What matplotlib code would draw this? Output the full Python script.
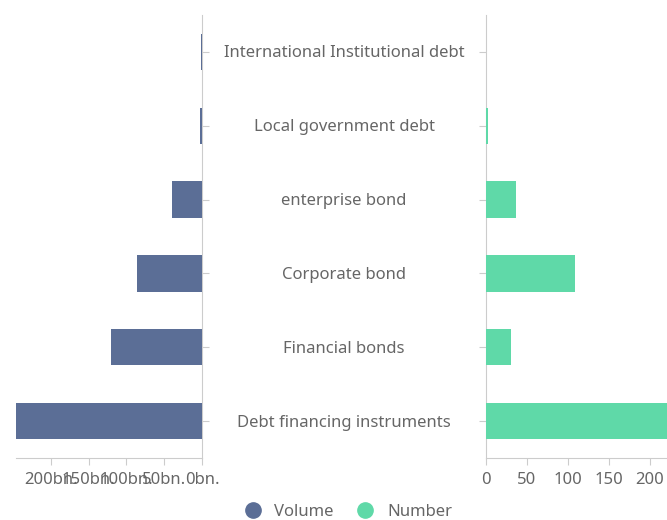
import matplotlib.pyplot as plt
from matplotlib.lines import Line2D

plt.rcParams['font.family'] = ['Noto Sans', 'DejaVu Sans']

categories = ["International Institutional debt", "Local government debt",
              "enterprise bond", "Corporate bond", "Financial bonds",
              "Debt financing instruments"]
volume_bn = [1.0, 2.5, 40, 86, 120, 246]
number = [0, 2, 36, 108, 30, 235]
volume_ticks = [0, 50, 100, 150, 200]
number_ticks = [0, 50, 100, 150, 200]

c_vol = '#5b6e96'
c_num = '#5fd9a8'
axis_c = '#cccccc'
text_c = '#666666'

fig = plt.figure(figsize=(6.67, 5.2), dpi=100)
axl = fig.add_axes([16 / 667, 62 / 520, 186 / 667, 443 / 520])
axr = fig.add_axes([486 / 667, 62 / 520, 181 / 667, 443 / 520])

ypos = list(range(len(categories)))

axl.barh(ypos, volume_bn, height=0.49, color=c_vol, zorder=3)
axl.set_xlim(246, 0)
axr.barh(ypos, number, height=0.49, color=c_num, zorder=3)
axr.set_xlim(0, 181 / 0.82)

for ax in (axl, axr):
    ax.set_ylim(len(categories) - 0.5, -0.5)
    ax.set_yticks(ypos)
    ax.set_yticklabels([])
    for s in ax.spines.values():
        s.set_visible(False)
    ax.spines['bottom'].set_visible(True)
    ax.spines['bottom'].set_color(axis_c)
    ax.tick_params(axis='both', colors=axis_c, length=5, labelcolor=text_c,
                   labelsize=12)
    ax.tick_params(axis='x', pad=5)

axl.spines['right'].set_visible(True)
axl.spines['right'].set_color(axis_c)
axl.yaxis.tick_right()
axl.set_xticks(volume_ticks)
axl.set_xticklabels(["%dbn." % v for v in volume_ticks])

axr.spines['left'].set_visible(True)
axr.spines['left'].set_color(axis_c)
axr.set_xticks(number_ticks)
axr.set_xticklabels([str(v) for v in number_ticks])

# category names in the gap between the two axes
for i, name in enumerate(categories):
    y = (458 - 15) / len(categories) * (i + 0.5) + 15
    fig.text(344 / 667, 1 - (y + 1.5) / 520, name, ha='center', va='center',
             fontsize=12, color=text_c)

handles = [Line2D([], [], marker='o', ls='', color=c_vol, markersize=11),
           Line2D([], [], marker='o', ls='', color=c_num, markersize=11)]
fig.legend(handles, ["Volume", "Number"], loc='center', ncol=2,
           bbox_to_anchor=(344 / 667, 8 / 520), frameon=False, fontsize=12,
           labelcolor=text_c, handletextpad=0.3, columnspacing=0.9,
           borderaxespad=0)

fig.savefig("out.png", dpi=100)
